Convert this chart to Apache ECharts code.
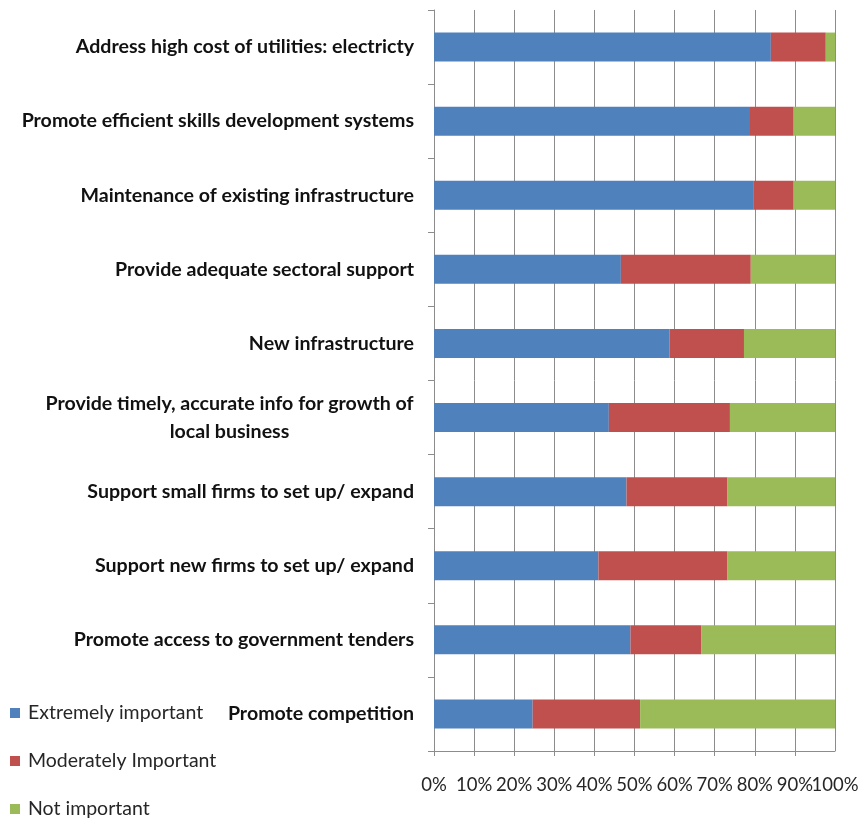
<!DOCTYPE html>
<html>
<head>
<meta charset="utf-8">
<script src="https://cdn.jsdelivr.net/npm/echarts@6/dist/echarts.min.js"></script>
<style>
  html, body { margin: 0; padding: 0; background: #ffffff; }
  #chart { width: 860px; height: 825px; }
</style>
</head>
<body>
<div id="chart"></div>
<script>
// Policy priorities, top to bottom
const categories = [
  'Address high cost of utilities: electricty',
  'Promote efficient skills development systems',
  'Maintenance of existing infrastructure',
  'Provide adequate sectoral support',
  'New infrastructure',
  'Provide timely, accurate info for growth of\nlocal business',
  'Support small firms to set up/ expand',
  'Support new firms to set up/ expand',
  'Promote access to government tenders',
  'Promote competition'
];

// Share of respondents (%) for each rating
const extremelyImportant  = [84.0, 78.8, 79.6, 46.6, 58.7, 43.6, 48.0, 41.0, 49.0, 24.6];
const moderatelyImportant = [13.7, 10.9, 10.1, 32.4, 18.6, 30.2, 25.2, 32.2, 17.6, 26.8];
const notImportant        = [ 2.3, 10.3, 10.3, 21.0, 22.7, 26.2, 26.8, 26.8, 33.4, 48.6];

const seriesNames = ['Extremely important', 'Moderately Important', 'Not important'];
const seriesColors = ['#4F81BD', '#C0504D', '#9BBB59'];

const xTicks = { min: 0, max: 100, interval: 10 };

const fontFamily = 'Lato, "Open Sans", sans-serif';
const gridColor = '#8c8c8c';
const catFontSize = 19.6;

// Width of the widest line of a wrapped label, so its lines can be centred
// on each other while the block stays right-aligned against the axis.
function textWidth(text, weight, size) {
  const ctx = document.createElement('canvas').getContext('2d');
  ctx.font = weight + ' ' + size + 'px ' + fontFamily;
  return ctx.measureText(text).width;
}
const wrappedWidth = Math.max.apply(null, categories
  .filter(function (c) { return c.indexOf('\n') >= 0; })
  .map(function (c) {
    return Math.max.apply(null, c.split('\n').map(function (l) { return textWidth(l, 'bold', catFontSize); }));
  }).concat([0]));

const chart = echarts.init(document.getElementById('chart'));

function stacked(name, data, color) {
  return {
    name: name,
    type: 'bar',
    stack: 'total',
    data: data,
    barWidth: 29,
    itemStyle: { color: color },
    emphasis: { disabled: true }
  };
}

const xLabelStyle = {
  fontFamily: fontFamily,
  fontSize: 18.5,
  color: '#262626',
  margin: 25,
  hideOverlap: false
};

chart.setOption({
  animation: false,
  backgroundColor: '#ffffff',
  grid: { left: 434, right: 25, top: 10, bottom: 74, containLabel: false, outerBoundsMode: 'none' },
  legend: {
    orient: 'vertical',
    left: 10,
    top: 703,
    padding: 0,
    height: 122,
    itemWidth: 10,
    itemHeight: 10,
    itemGap: 28,
    icon: 'rect',
    data: seriesNames,
    textStyle: { fontFamily: fontFamily, fontSize: 19.5, color: '#262626', padding: [0, 0, 0, 3] },
    selectedMode: false
  },
  xAxis: [
    {
      // main percentage axis: line, ticks, gridlines and 0%..90% labels
      type: 'value',
      position: 'bottom',
      min: xTicks.min,
      max: xTicks.max,
      interval: xTicks.interval,
      axisLine: { show: true, lineStyle: { color: gridColor, width: 1 } },
      axisTick: { show: true, length: 5, lineStyle: { color: gridColor } },
      splitLine: { show: true, lineStyle: { color: gridColor, width: 1 } },
      axisLabel: Object.assign({ formatter: '{value}%', showMinLabel: true, showMaxLabel: false }, xLabelStyle)
    },
    {
      // companion axis on the same baseline carrying only the end label
      type: 'value',
      position: 'bottom',
      offset: 0,
      min: xTicks.min,
      max: xTicks.max,
      interval: xTicks.interval,
      axisLine: { show: false },
      axisTick: { show: false },
      splitLine: { show: false },
      axisLabel: Object.assign({
        formatter: function (v) { return v === xTicks.max ? v + '%' : ''; },
        showMaxLabel: true
      }, xLabelStyle)
    }
  ],
  yAxis: {
    type: 'category',
    inverse: true,
    data: categories,
    axisLine: { show: true, lineStyle: { color: gridColor, width: 1 } },
    axisTick: { show: true, length: 6, lineStyle: { color: gridColor } },
    axisLabel: {
      fontFamily: fontFamily,
      fontWeight: 'bold',
      fontSize: catFontSize,
      color: '#111111',
      margin: 20,
      interval: 0,
      formatter: function (value) {
        if (value.indexOf('\n') < 0) return value;
        return value.split('\n').map(function (line) { return '{c|' + line + '}'; }).join('\n');
      },
      rich: {
        c: {
          width: Math.ceil(wrappedWidth),
          align: 'center',
          fontFamily: fontFamily,
          fontWeight: 'bold',
          fontSize: catFontSize,
          color: '#111111',
          lineHeight: 28
        }
      }
    }
  },
  series: [
    stacked(seriesNames[0], extremelyImportant, seriesColors[0]),
    stacked(seriesNames[1], moderatelyImportant, seriesColors[1]),
    stacked(seriesNames[2], notImportant, seriesColors[2])
  ]
});
</script>
</body>
</html>
